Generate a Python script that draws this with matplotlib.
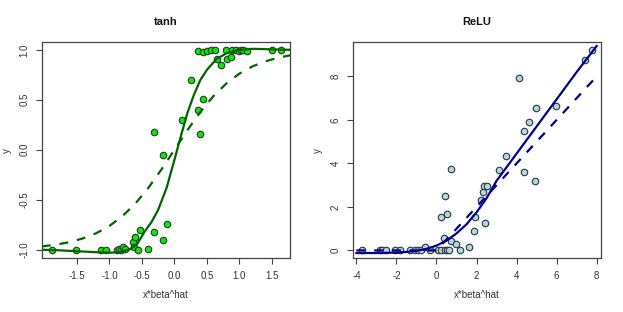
import matplotlib
matplotlib.use("Agg")
import matplotlib.pyplot as plt

plt.rcParams['font.family'] = ['Liberation Sans', 'DejaVu Sans']
plt.rcParams['axes.unicode_minus'] = False

# tanh panel: observed points
tanh_x = [-1.89, -1.515, -1.13, -1.06, -0.89, -0.86, -0.83, -0.79, -0.76, -0.64,
          -0.62, -0.61, -0.56, -0.53, -0.40, -0.32, -0.17, -0.11, -0.32, -0.17,
          0.115, 0.25, 0.36, 0.39, 0.445, 0.36, 0.44, 0.50, 0.56, 0.62,
          0.66, 0.71, 0.79, 0.81, 0.87, 0.88, 0.94, 1.00, 1.02, 1.06,
          1.12, 1.50, 1.64]
tanh_y = [-1.0, -1.0, -1.0, -1.0, -1.0, -0.99, -1.0, -0.97, -0.99, -0.92,
          -0.97, -0.87, -1.0, -0.80, -0.99, -0.82, -0.90, -0.74, 0.18, -0.05,
          0.30, 0.70, 0.40, 0.16, 0.51, 0.985, 0.98, 0.99, 0.995, 0.995,
          0.91, 0.845, 0.995, 0.91, 0.925, 0.995, 0.995, 0.985, 0.995, 0.995,
          0.99, 0.995, 0.995]

# fitted curve (solid)
tanh_fit_x = [-2.04, -1.8, -1.5, -1.2, -1.0, -0.85, -0.7, -0.58, -0.46, -0.35,
              -0.25, -0.12, 0.0, 0.1, 0.2, 0.3, 0.4, 0.5, 0.65, 0.8,
              1.0, 1.2, 1.5, 1.78]
tanh_fit_y = [-1.00, -1.005, -1.015, -1.025, -1.03, -1.025, -1.0, -0.95, -0.82, -0.72,
              -0.60, -0.38, -0.10, 0.14, 0.37, 0.55, 0.70, 0.80, 0.91, 0.965,
              1.0, 1.01, 1.005, 1.0]

# true activation (dashed)
tanh_true_x = [-2.04, -1.8, -1.6, -1.4, -1.2, -1.0, -0.8, -0.6, -0.4, -0.2,
               0.0, 0.2, 0.4, 0.6, 0.8, 1.0, 1.2, 1.4, 1.6, 1.78]
tanh_true_y = [-0.967, -0.947, -0.922, -0.885, -0.834, -0.762, -0.664, -0.537, -0.380, -0.197,
               0.0, 0.197, 0.380, 0.537, 0.664, 0.762, 0.834, 0.885, 0.922, 0.945]

# ReLU panel: observed points
relu_x = [-3.7, -2.83, -2.7, -2.5, -2.05, -1.8, -1.33, -1.05, -0.9, -0.75,
          -0.3, 0.1, 0.25, 0.45, 0.55, 0.65, 1.15, -0.58,
          0.23, 0.38, 0.45, 0.52, 0.72, 0.73, 0.97, 1.62, 1.85, 1.93,
          2.23, 2.30, 2.37, 2.50, 2.40, 3.10, 3.48, 4.12, 4.35, 4.38,
          4.62, 4.93, 4.95, 5.95, 7.42, 7.77]
relu_y = [0, 0, 0, 0, 0, 0, 0, 0, 0, 0,
          0, 0, 0, 0, 0, 0, 0, 0.15,
          1.53, 0.55, 2.51, 1.69, 3.75, 0.44, 0.31, 0.18, 0.87, 1.53,
          2.33, 2.68, 2.94, 2.94, 1.26, 3.68, 4.35, 7.92, 3.59, 5.47,
          5.89, 3.17, 6.54, 6.65, 8.77, 9.20]

relu_fit_x = [-4, -3, -2, -1.5, -1, -0.5, 0, 0.5, 1, 1.5,
              2, 2.5, 3, 4, 5, 6, 7, 8]
relu_fit_y = [-0.12, -0.12, -0.10, -0.07, -0.02, 0.07, 0.22, 0.45, 0.78, 1.20,
              1.75, 2.40, 3.20, 4.45, 5.70, 6.95, 8.20, 9.40]

relu_true_x = [-4, 0, 8]
relu_true_y = [0, 0, 8]

fig = plt.figure(figsize=(6.23, 3.12), dpi=100)
ax1 = fig.add_axes([0.0674, 0.173, 0.398, 0.692])
ax2 = fig.add_axes([0.5666, 0.173, 0.398, 0.692])

frame = '#444444'


def style(ax, title):
    for s in ax.spines.values():
        s.set_color(frame)
        s.set_linewidth(0.9)
    ax.tick_params(direction='out', length=4, width=0.8, color=frame,
                   labelsize=7, labelcolor='#333333', pad=5)
    for lab in ax.get_yticklabels():
        lab.set_rotation(90)
        lab.set_va('center')
    ax.set_xlabel('x*beta^hat', fontsize=7, color='#333333', va='center')
    ax.set_ylabel('y', fontsize=7, color='#333333', va='center')
    ax.xaxis.set_label_coords(0.5, -0.171)
    ax.yaxis.set_label_coords(-0.141, 0.5)
    ax.text(0.5, 1.093, title, transform=ax.transAxes, ha='center', va='center',
            fontsize=8, fontweight='bold', color='#111111')


ax1.scatter(tanh_x, tanh_y, s=22, c='#00ee00', edgecolors='#333333', linewidths=0.8, zorder=2)
ax1.plot(tanh_fit_x, tanh_fit_y, color='#006400', lw=1.6, zorder=3)
ax1.plot(tanh_true_x, tanh_true_y, color='#006400', lw=1.6, ls=(0, (4, 4)), zorder=3)
ax1.set_xlim(-2.038, 1.777)
ax1.set_ylim(-1.083, 1.077)
ax1.set_xticks([-1.5, -1.0, -0.5, 0.0, 0.5, 1.0, 1.5])
ax1.set_yticks([-1.0, -0.5, 0.0, 0.5, 1.0])
ax1.set_xticklabels(['-1.5', '-1.0', '-0.5', '0.0', '0.5', '1.0', '1.5'])
ax1.set_yticklabels(['-1.0', '-0.5', '0.0', '0.5', '1.0'])
style(ax1, 'tanh')

ax2.scatter(relu_x, relu_y, s=22, c='#add8e6', edgecolors='#333333', linewidths=0.8, zorder=2)
ax2.plot(relu_fit_x, relu_fit_y, color='#00008b', lw=1.6, zorder=3)
ax2.plot(relu_true_x, relu_true_y, color='#00008b', lw=1.6, ls=(0, (4, 4)), zorder=3)
ax2.set_xlim(-4.17, 8.215)
ax2.set_ylim(-0.35, 9.58)
ax2.set_xticks([-4, -2, 0, 2, 4, 6, 8])
ax2.set_yticks([0, 2, 4, 6, 8])
ax2.set_xticklabels(['-4', '-2', '0', '2', '4', '6', '8'])
ax2.set_yticklabels(['0', '2', '4', '6', '8'])
style(ax2, 'ReLU')

fig.savefig('out.png', dpi=100)
